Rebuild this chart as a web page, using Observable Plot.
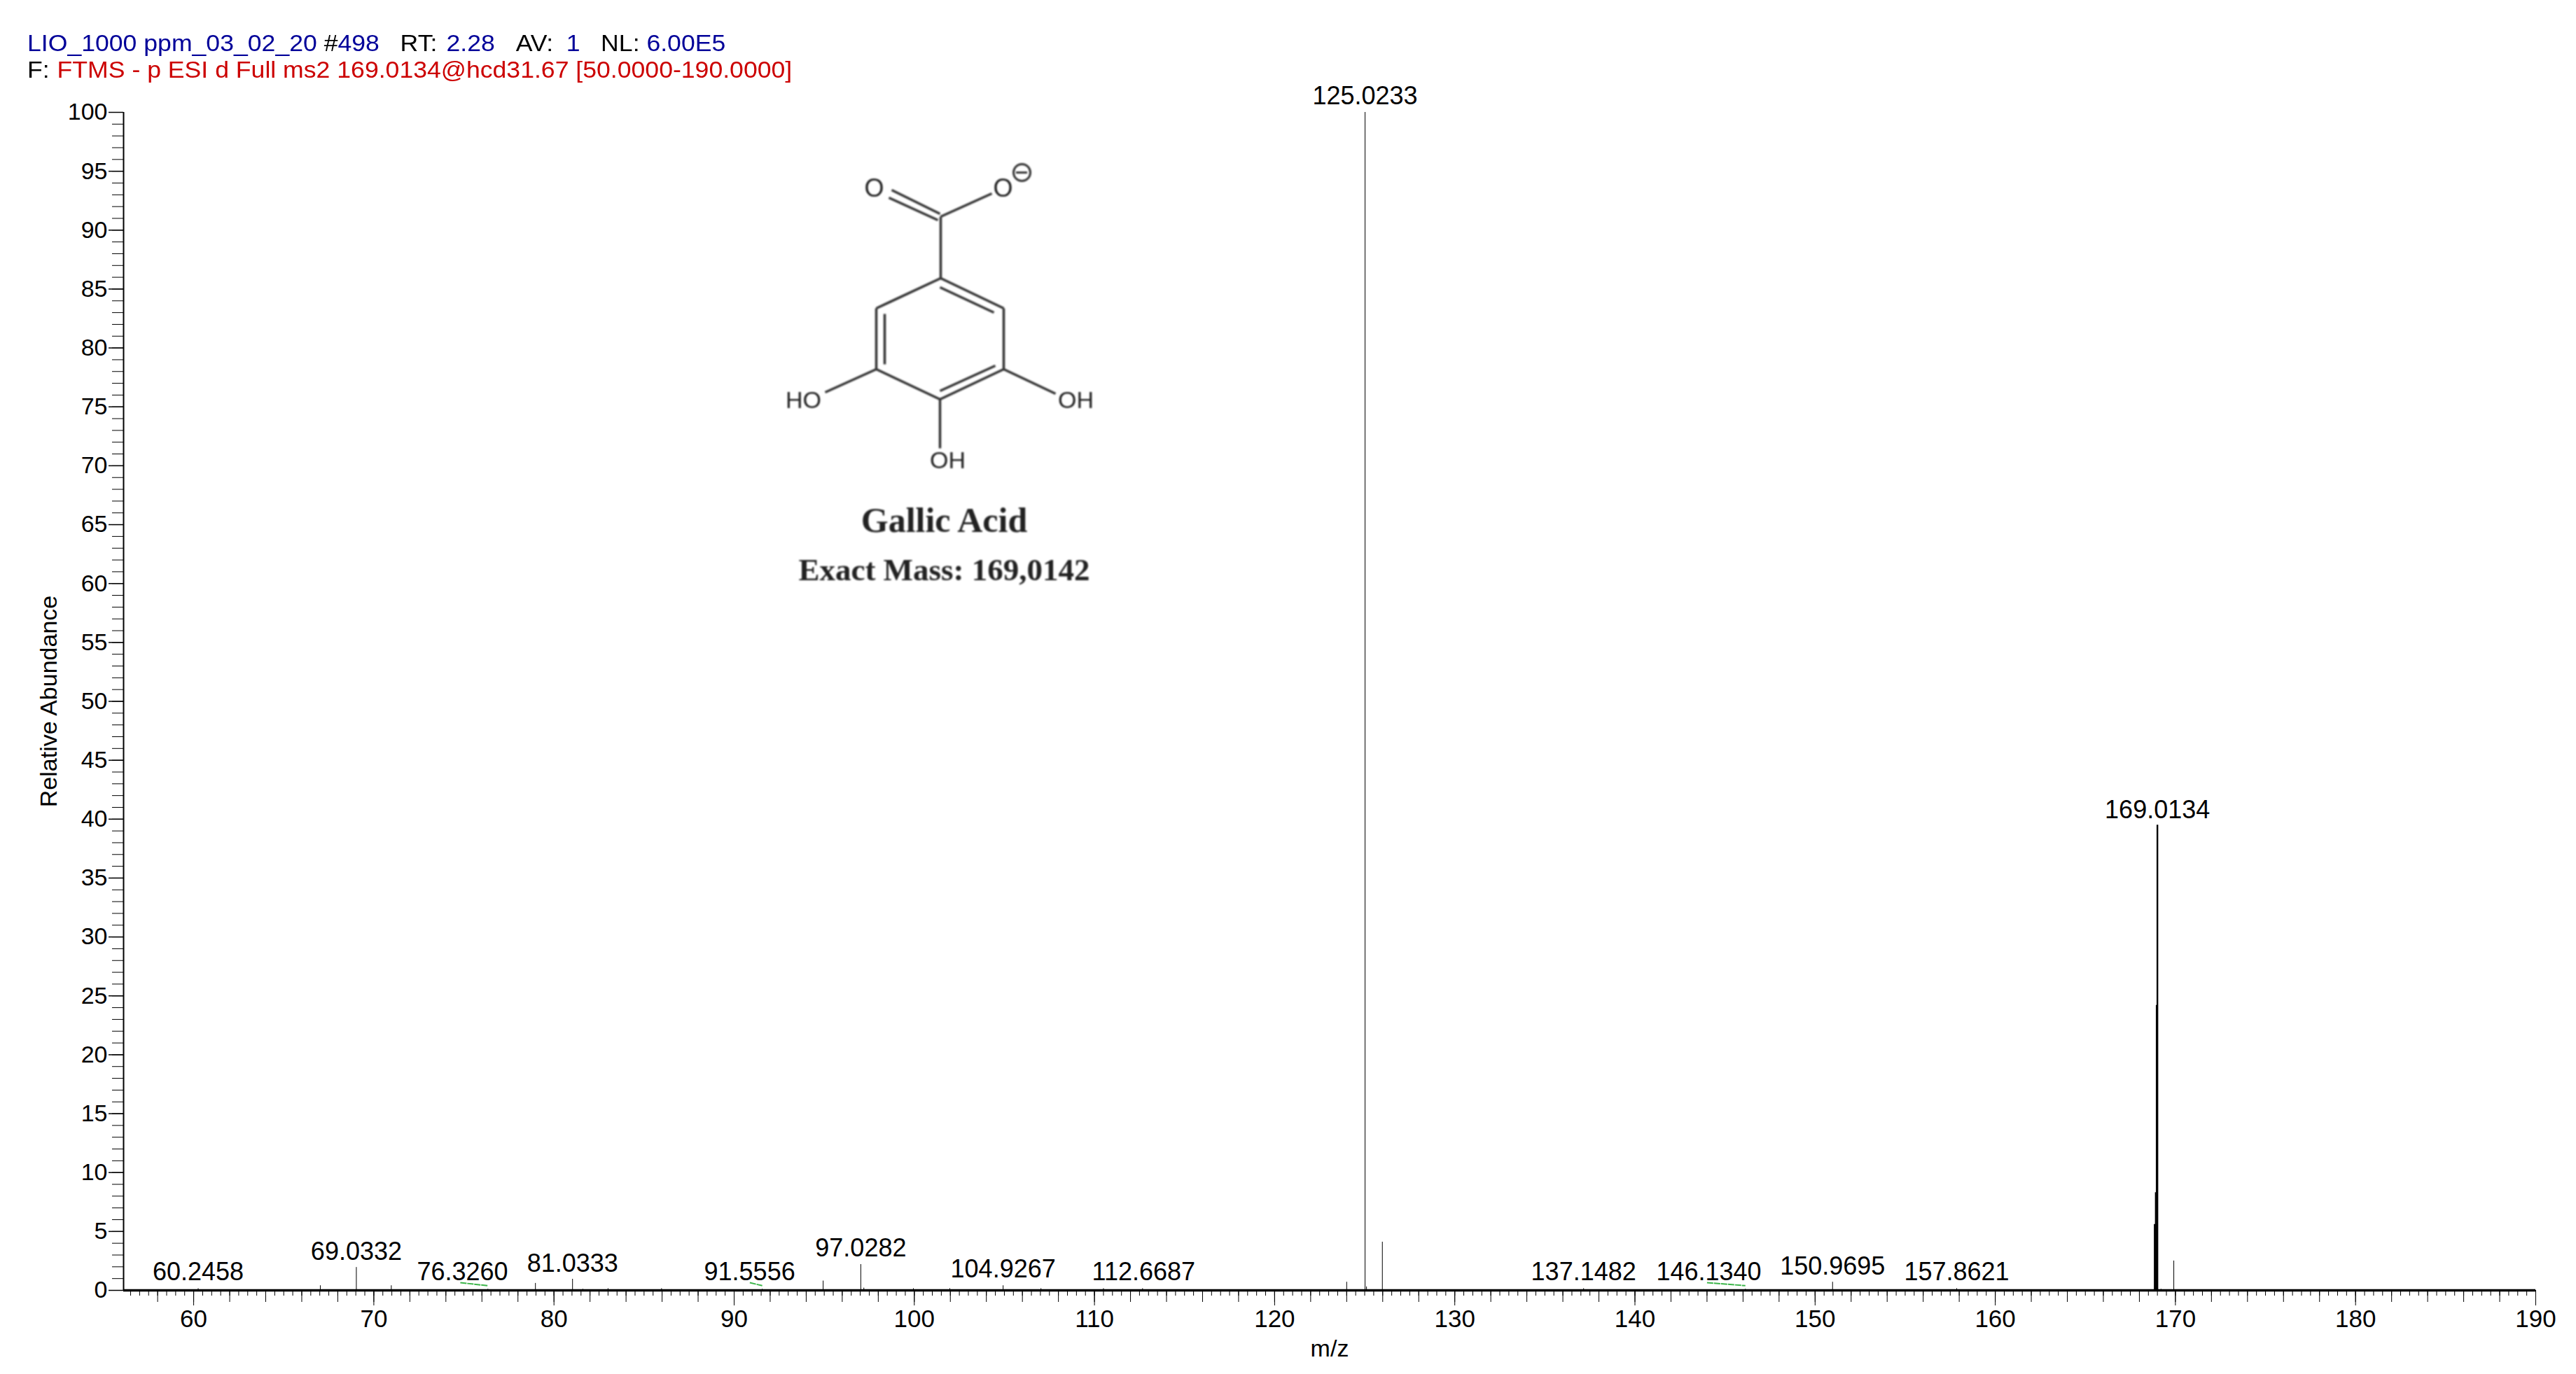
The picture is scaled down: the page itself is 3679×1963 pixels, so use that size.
<!DOCTYPE html>
<html><head><meta charset="utf-8">
<style>
html,body{margin:0;padding:0;background:#fff;}
#wrap{position:relative;width:3679px;height:1963px;overflow:hidden;font-family:"Liberation Sans",Arial,sans-serif;}
#head{position:absolute;z-index:2;left:39px;top:43px;font-size:33px;line-height:38px;white-space:pre;transform:scaleX(1.079);transform-origin:left top;}
.b{color:#000099}.r{color:#cc0000}.k{color:#000}
#chart{position:absolute;left:0;top:100px;}
#inset{position:absolute;left:1080px;top:200px;z-index:1;filter:blur(0.8px);}
</style>
<script src="https://cdn.jsdelivr.net/npm/d3@7"></script>
<script src="https://cdn.jsdelivr.net/npm/@observablehq/plot@0.6"></script>
</head><body>
<div id="wrap">
<div id="head"><span class="b">LIO_1000 ppm_03_02_20 </span><span class="k">#</span><span class="b">498</span><span class="k">   RT: </span><span class="b" style="margin-left:3px">2.28</span><span class="k" style="margin-left:2px">   AV: </span><span class="b" style="margin-left:8px">1</span><span class="k">   NL: </span><span class="b">6.00E5</span>
<span class="k">F: </span><span class="r" style="margin-left:1px">FTMS - p ESI d Full ms2 169.0134@hcd31.67 [50.0000-190.0000]</span></div>
<div id="chart"></div>
<div id="inset"></div>
</div>
<script>
// Peaks
const peakMz = [60.25,67.03,69.03,70.97,76.33,78.97,81.03,81.6,83,85.97,91.56,94.94,97.03,97.2,99.95,101.97,104.93,107.03,110.5,112.67,124,125.02,125.1,125.98,137.15,146.13,150.97,157.86,169.91,169.2];
const peakAb = [0.15,0.4,1.95,0.4,0.1,0.6,0.95,0.1,0.15,0.15,0.1,0.8,2.2,0.2,0.15,0.15,0.4,0.15,0.15,0.15,0.7,100,0.3,4.1,0.15,0.1,0.7,0.15,2.5,0.1];
// The main ion cluster is drawn heavier
const clusterMz = [168.85,168.91,168.96,169.0];
const clusterAb = [5.6,8.3,24.2,39.5];
// Peak labels
const labelText = ["60.2458","69.0332","76.3260","81.0333","91.5556","97.0282","104.9267","112.6687","125.0233","137.1482","146.1340","150.9695","157.8621","169.0134"];
const labelMz = [60.25,69.03,74.92,81.03,90.86,97.03,104.93,112.73,125.02,137.15,144.1,150.97,157.86,169.0];
const labelAb = [1.55,3.27,1.55,2.26,1.55,3.57,1.78,1.55,101.37,1.55,1.55,2.02,1.55,40.76];
// Green leader lines from moved labels to their peaks
const leaderFromMz = [74.8,90.87,144.0];
const leaderFromAb = [0.65,0.65,0.65];
const leaderToMz = [76.33,91.56,146.13];
const leaderToAb = [0.4,0.4,0.4];
// Axis ticks
const xLabelTicks = [60,70,80,90,100,110,120,130,140,150,160,170,180,190];
const xMidTicks = d3.range(58,190,2);
const xMinorTicks = d3.range(56.5,190.01,0.5);
const yLabelTicks = d3.range(0,101,5);
const yMinorTicks = d3.range(0,101,1);

const peaks = peakMz.map((mz,i)=>({mz,ab:peakAb[i]}));
const cluster = clusterMz.map((mz,i)=>({mz,ab:clusterAb[i]}));
const labels = labelText.map((t,i)=>({t,mz:labelMz[i],ab:labelAb[i]}));
const leaders = leaderFromMz.map((m,i)=>({x1:m,y1:leaderFromAb[i],x2:leaderToMz[i],y2:leaderToAb[i]}));

const chart = Plot.plot({
  width:3679,height:1863,
  marginLeft:176,marginRight:58,marginTop:60,marginBottom:120,
  style:{background:"transparent",fontFamily:"'Liberation Sans',Arial,sans-serif",color:"#000"},
  x:{domain:[56.11,190]},
  y:{domain:[0,100]},
  marks:[
    Plot.axisX({ticks:xMinorTicks,tickSize:8,tickFormat:()=>"",label:null}),
    Plot.axisX({ticks:xMidTicks,tickSize:17,tickFormat:()=>"",label:null}),
    Plot.axisX({ticks:xLabelTicks,tickSize:22,tickPadding:6,fontSize:35,tickFormat:d=>String(d),label:"m/z",labelAnchor:"center",labelArrow:"none",labelOffset:94}),
    Plot.axisY({ticks:yMinorTicks,tickSize:16,tickFormat:()=>"",label:null}),
    Plot.axisY({ticks:yLabelTicks,tickSize:21,tickPadding:2,fontSize:34,strokeWidth:1.5,tickFormat:d=>String(d),label:"Relative Abundance",labelAnchor:"center",labelArrow:"none",labelOffset:120}),
    Plot.ruleX(peaks,{x:"mz",y1:0,y2:"ab",stroke:"#000",strokeWidth:1}),
    Plot.ruleX(cluster,{x:"mz",y1:0,y2:"ab",stroke:"#000",strokeWidth:2.4}),
    Plot.link(leaders,{x1:"x1",y1:"y1",x2:"x2",y2:"y2",stroke:"#3cb54a",strokeWidth:2,strokeDasharray:"9 1"}),
    Plot.ruleY([0],{stroke:"#000",strokeWidth:3.5}),
    Plot.ruleX([56.11],{y1:0,y2:100,stroke:"#000",strokeWidth:2}),
    Plot.text(labels,{x:"mz",y:"ab",text:"t",fontSize:36,fill:"#000"})
  ]
});
document.getElementById("chart").append(chart);
chart.querySelectorAll('text').forEach(t=>{ if(t.textContent==="m/z"||t.textContent==="Relative Abundance"){t.setAttribute('font-size','34');} });

// Inset: gallic acid structure, in the inset's own drawing units
const bondX1=[193,189,263,263,263,353,353,262,171,171,262,183,262,171,353,262];
const bondY1=[71,82,109,109,197,240,327,370,327,240,210,248,358,327,327,370];
const bondX2=[262,259,336,263,353,353,262,171,171,263,339,183,341,98,427,262];
const bondY2=[105,114,76,197,240,327,370,327,240,197,246,320,322,360,362,440];
const atomText=["O","O","HO","OH","OH","Gallic Acid","Exact Mass: 169,0142"];
const atomX=[168,352,67,456,273,268,268];
const atomY=[69,69,372,372,458,543,614];
const atomSize=[36,36,34,34,34,50,45];
const atomFont=["Liberation Sans","Liberation Sans","Liberation Sans","Liberation Sans","Liberation Sans","Liberation Serif","Liberation Serif"];
const atomWeight=["normal","normal","normal","normal","normal","bold","bold"];
const bonds=bondX1.map((x,i)=>({x1:x,y1:bondY1[i],x2:bondX2[i],y2:bondY2[i]}));
const atoms=atomText.map((t,i)=>({t,x:atomX[i],y:atomY[i],s:atomSize[i],f:atomFont[i],w:atomWeight[i]}));
const inset=Plot.plot({
  width:560,height:660,margin:0,
  style:{background:"transparent"},
  x:{domain:[0,560],range:[0,560],axis:null},
  y:{domain:[0,660],range:[0,660],axis:null},
  marks:[
    Plot.link(bonds,{x1:"x1",y1:"y1",x2:"x2",y2:"y2",stroke:"#333",strokeWidth:3.5}),
    Plot.dot([{x:379,y:46}],{x:"x",y:"y",r:12,stroke:"#333",strokeWidth:3}),
    Plot.ruleY([{y:46}],{y:"y",x1:371,x2:387,stroke:"#333",strokeWidth:3}),
    ...atoms.map(a=>Plot.text([a],{x:"x",y:"y",text:"t",fontSize:a.s,fontFamily:a.f,fontWeight:a.w,fill:"#222"}))
  ]
});
document.getElementById("inset").append(inset);
</script>
</body></html>
